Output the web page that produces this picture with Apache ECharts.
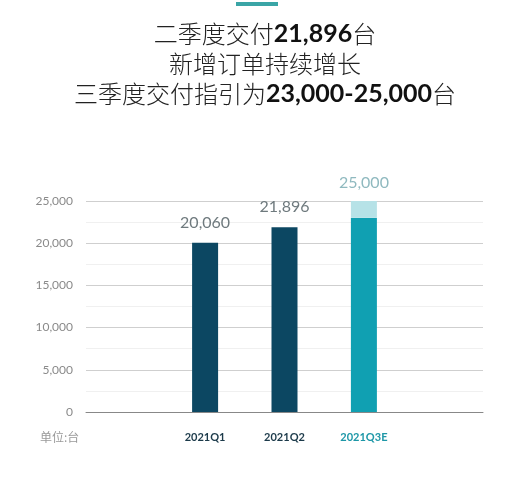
<!DOCTYPE html>
<html>
<head>
<meta charset="utf-8">
<script src="https://cdn.jsdelivr.net/npm/echarts@6/dist/echarts.min.js"></script>
<style>
  html, body { margin: 0; padding: 0; background: #fff; }
  #main { width: 530px; height: 479px; }
</style>
</head>
<body>
<div id="main"></div>
<script>
// data
var categories = ['', '2021Q1', '2021Q2', '2021Q3E', ''];
var delivered = [null, 20060, 21896, 23000, null];      // Q3E lower bound of guidance
var guidanceTop = [null, null, null, 2000, null];        // 23,000 -> 25,000
var valueLabels = [null, '20,060', '21,896', null, null];
var guidanceLabel = '25,000';
var yTicks = [0, 5000, 10000, 15000, 20000, 25000];

var dark = '#0c4762';
var teal = '#10a0b2';
var lightTeal = '#b6e2e7';

var chart = echarts.init(document.getElementById('main'));

var fmt = function (v) {
  return String(v).replace(/\B(?=(\d{3})+(?!\d))/g, ',');
};

var option = {
  backgroundColor: '#fff',
  animation: false,
  title: {
    left: 'center',
    top: 14,
    text: '{n|二季度交付}{b|21,896}{n|台}\n{n|新增订单持续增长}\n{n|三季度交付指引为}{b|23,000-25,000}{n|台}',
    textStyle: {
      fontWeight: 'normal',
      rich: {
        n: { fontFamily: 'Noto Sans CJK SC', fontWeight: 300, fontSize: 24, color: '#222', lineHeight: 30 },
        b: { fontFamily: 'Lato', fontWeight: 'bold', fontSize: 25, color: '#111', lineHeight: 30 }
      }
    }
  },
  graphic: [{
    type: 'rect',
    left: 236,
    top: 2,
    shape: { width: 42, height: 4 },
    style: { fill: '#3aa5a6' }
  }, {
    type: 'text',
    left: 40,
    top: 431,
    style: { text: '单位:台', fill: '#999', font: '12px "Noto Sans CJK SC"' }
  }],
  grid: { left: 86, right: 47, top: 201, bottom: 67 },
  xAxis: {
    type: 'category',
    data: categories,
    axisTick: { show: false },
    axisLine: { lineStyle: { color: '#888', width: 1 } },
    axisLabel: {
      margin: 20,
      fontFamily: 'Lato',
      fontWeight: 'bold',
      fontSize: 11,
      color: function (v) { return v === '2021Q3E' ? '#1d97a7' : '#1c3a4a'; }
    }
  },
  yAxis: {
    type: 'value',
    min: yTicks[0],
    max: yTicks[yTicks.length - 1],
    interval: 5000,
    axisLine: { show: false },
    axisTick: { show: false },
    axisLabel: {
      margin: 13,
      fontFamily: 'Lato',
      fontSize: 12,
      color: '#8a8a8a',
      formatter: fmt
    },
    splitLine: { lineStyle: { color: '#cfcfcf', width: 1 } },
    minorTick: { show: false, splitNumber: 2 },
    minorSplitLine: { show: true, lineStyle: { color: '#f0f0f0', width: 1 } }
  },
  series: [{
    type: 'bar',
    stack: 'q',
    barWidth: 26,
    data: delivered.map(function (v, i) {
      return {
        value: v,
        itemStyle: { color: i === 3 ? teal : dark },
        label: {
          show: valueLabels[i] != null,
          position: 'top',
          distance: 12,
          formatter: valueLabels[i] || '',
          fontFamily: 'Lato',
          fontSize: 16,
          color: '#6f7a7e'
        }
      };
    })
  }, {
    type: 'bar',
    stack: 'q',
    barWidth: 26,
    itemStyle: { color: lightTeal },
    label: {
      show: true,
      position: 'top',
      distance: 10,
      formatter: function (p) { return p.value != null ? guidanceLabel : ''; },
      fontFamily: 'Lato',
      fontSize: 16,
      color: '#8fb9bf'
    },
    data: guidanceTop
  }]
};

chart.setOption(option);
</script>
</body>
</html>
